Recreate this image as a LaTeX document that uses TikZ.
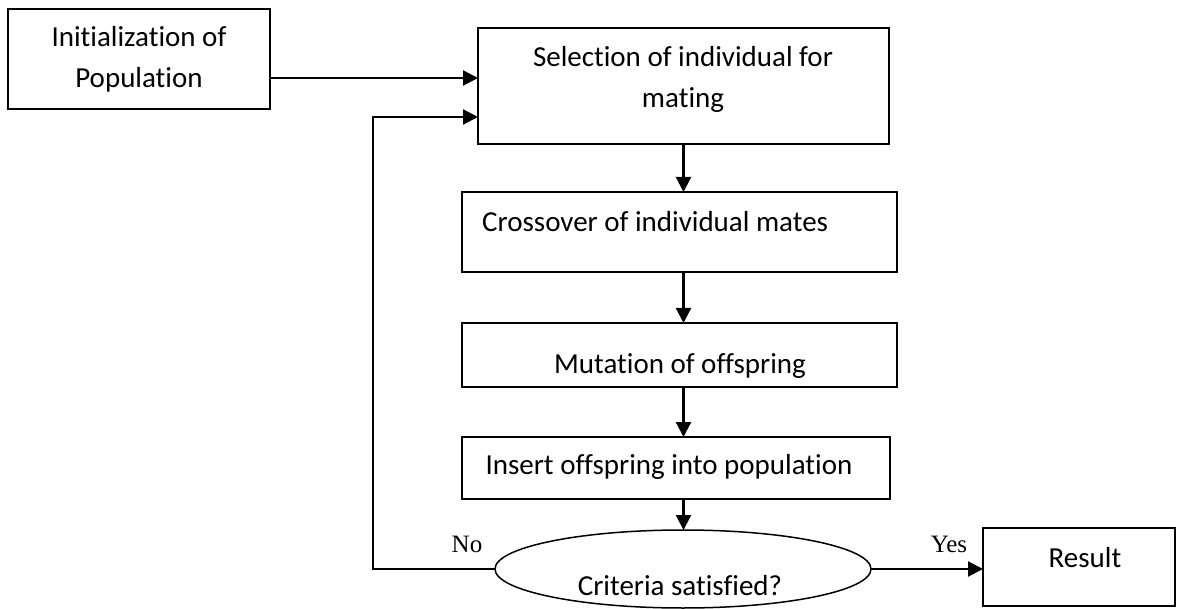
\documentclass[tikz,border=0pt]{standalone}
\usepackage{fontspec}
\setmainfont{Carlito}[Ligatures=NoCommon]
\newfontfamily\labfont{Liberation Serif}
\usetikzlibrary{arrows.meta,shapes.geometric}
\begin{document}
\begin{tikzpicture}[x=1pt,y=-1pt,
  box/.style={draw, line width=1.8pt, inner sep=0pt, outer sep=0pt},
  oval/.style={draw, ellipse, line width=1.5pt, inner sep=0pt, outer sep=0pt},
  txt/.style={inner sep=0pt, font=\fontsize{29}{41}\selectfont, anchor=base},
  lab/.style={inner sep=0pt, font=\labfont\fontsize{25}{30}\selectfont, anchor=base},
  arr/.style={line width=2.2pt, -{Triangle[length=15pt,width=15pt]}}
]
\useasboundingbox (0,0) rectangle (1180,609);

\node[box, minimum width=262pt, minimum height=100pt] (init) at (139,59) {};
\node[txt, align=center] (initT) at (139,88) {Initialization of\\Population};

\node[box, minimum width=411pt, minimum height=116pt] (sel) at (683.5,86) {};
\node[txt, align=center] (selT) at (683,108) {Selection of individual for\\mating};

\node[box, minimum width=435pt, minimum height=80pt] (cross) at (679.5,232) {};
\node[txt, anchor=base west] (crossT) at (482,232) {Crossover of individual mates};

\node[box, minimum width=435pt, minimum height=64pt] (mut) at (679.5,355) {};
\node[txt] (mutT) at (680,373) {Mutation of offspring};

\node[box, minimum width=428pt, minimum height=62pt] (ins) at (676,468) {};
\node[txt] (insT) at (669,474) {Insert offspring into population};

\node[oval, minimum width=376pt, minimum height=78pt] (crit) at (683,569) {};
\node[txt] (critT) at (680,595) {Criteria satisfied?};

\node[box, minimum width=192pt, minimum height=78pt] (res) at (1079,567) {};
\node[txt] (resT) at (1085,567) {Result};

\node[lab] (no) at (467,552) {No};
\node[lab] (yes) at (949,552) {Yes};

\coordinate (lc) at (373,569);

\draw[arr] ([yshift=-19pt]init.east) -- ([yshift=-19pt]init.east -| sel.west);
\draw[arr] (crit.west) -- (lc) |- ([yshift=-31pt]sel.west);
\draw[arr] (sel.south) -- (sel.south |- cross.north);
\draw[arr] (sel.south |- cross.south) -- (sel.south |- mut.north);
\draw[arr] (sel.south |- mut.south) -- (sel.south |- ins.north);
\draw[arr] (sel.south |- ins.south) -- (sel.south |- crit.north);
\draw[arr] (crit.east) -- (crit.east -| res.west);
\end{tikzpicture}
\end{document}
